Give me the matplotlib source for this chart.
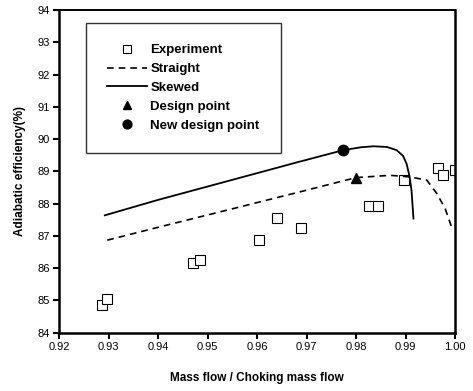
import numpy as np
import matplotlib
matplotlib.use("Agg")
import matplotlib.pyplot as plt

plt.rcParams["font.family"] = ["Liberation Sans", "DejaVu Sans"]

# experiment points
exp_x = [0.9286, 0.9296, 0.9470, 0.9484, 0.9604, 0.9640, 0.9689,
         0.9827, 0.9844, 0.9896, 0.9966, 0.9976, 1.0000]
exp_y = [84.86, 85.04, 86.17, 86.27, 86.87, 87.55, 87.24,
         87.92, 87.92, 88.73, 89.12, 88.90, 89.04]

# straight blade curve
str_x = [0.9297, 0.9400, 0.9552, 0.9700, 0.9800, 0.9869, 0.9909,
         0.9943, 0.9963, 0.9980, 0.9993]
str_y = [86.87, 87.27, 87.85, 88.42, 88.81, 88.88, 88.83,
         88.73, 88.32, 87.85, 87.28]

# skewed blade curve
skw_x = [0.9292, 0.9400, 0.9545, 0.9680, 0.9774, 0.9810, 0.9835,
         0.9862, 0.9882, 0.9895, 0.9902, 0.9908, 0.9912, 0.9916]
skw_y = [87.64, 88.12, 88.72, 89.28, 89.66, 89.75, 89.78,
         89.76, 89.66, 89.48, 89.24, 88.85, 88.42, 87.54]

design_pt = (0.9800, 88.81)
new_design_pt = (0.9774, 89.66)

fig = plt.figure(figsize=(4.73, 3.91), dpi=100)
ax = fig.add_axes([0.1254, 0.149, 0.8366, 0.825])

ax.plot(exp_x, exp_y, ls="none", marker="s", ms=6.5, mfc="white",
        mec="black", mew=0.8, label="Experiment")
ax.plot(str_x, str_y, ls=(0, (4, 3)), color="black", lw=1.2, label="Straight")
ax.plot(skw_x, skw_y, ls="-", color="black", lw=1.3, label="Skewed")
ax.plot(*design_pt, ls="none", marker="^", ms=7.5, color="black",
        label="Design point")
ax.plot(*new_design_pt, ls="none", marker="o", ms=7.5, color="black",
        label="New design point")

ax.set_xlim(0.92, 1.00)
ax.set_ylim(84, 94)
ax.set_xticks(np.arange(0.92, 1.0001, 0.01))
ax.set_xticklabels(["0.92", "0.93", "0.94", "0.95", "0.96", "0.97",
                    "0.98", "0.99", "1.00"])
ax.set_yticks(range(84, 95))
ax.tick_params(direction="out", length=4, width=1.5, labelsize=8,
               pad=3)
for s in ax.spines.values():
    s.set_linewidth(1.8)
ax.spines["top"].set_linewidth(1.4)

ax.set_xlabel("Mass flow / Choking mass flow", fontsize=8.5,
              fontweight="bold", labelpad=14)
ax.set_ylabel("Adiabatic efficiency(%)", fontsize=8.5, fontweight="bold",
              labelpad=8)

leg = ax.legend(loc="upper left", bbox_to_anchor=(0.067, 0.96),
                prop={"weight": "bold", "size": 9.5}, frameon=True,
                fancybox=False, edgecolor="black", handlelength=3.0,
                handletextpad=0.3, labelspacing=0.5, borderpad=1.6,
                borderaxespad=0, markerscale=0.85)
leg.get_frame().set_linewidth(1.0)

fig.savefig("out.png", dpi=100)
